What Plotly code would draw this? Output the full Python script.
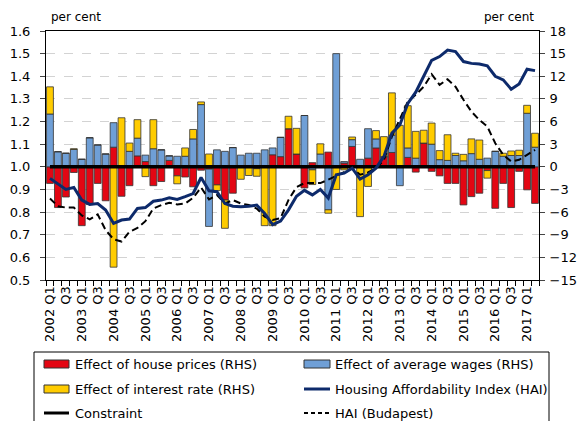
import plotly.graph_objects as go

# ---------------- data ----------------
years = list(range(2002, 2018))
n_quarters = 62  # 2002 Q1 .. 2017 Q2

house_prices = [-2.2, -5.4, -4.0, -0.75, -7.8, -5.0, -2.2, -4.5, 2.6, -3.9,
                -2.5, 1.45, 0.7, -2.5, -1.95, 0.85, -1.2, -1.35, -2.65, -0.45,
                -0.3, -2.4, -4.4, -3.5, 0.0, 0.0, -0.25, 0.0, 1.6, 1.35,
                5.05, 1.7, -2.8, 0.55, 0.0, 1.95, 0.0, 0.5, 2.7, 0.0,
                1.15, 2.5, 1.35, 1.9, 0.0, 1.25, -0.7, 3.15, -0.6, -1.2,
                -2.2, -2.2, -5.05, -3.95, -3.5, -0.5, -5.5, -2.2, -5.4, -0.6,
                -3.05, -4.85]
average_wages = [7.0, 2.0, 1.8, 2.3, 1.0, 3.85, 2.9, 1.7, 3.25, 0.0,
                 2.05, 2.35, 0.85, 2.4, 2.25, 0.6, 1.4, 1.4, 3.7, 8.25,
                 -7.6, 2.25, 2.05, 2.55, 1.55, 1.8, 1.8, 2.25, 0.9, 2.55,
                 0.0, 0.0, 6.8, -0.4, 1.7, -5.7, 15.0, 0.2, 0.9, 1.0,
                 3.9, 1.2, 0.0, 2.3, -2.5, 1.25, 1.15, 0.0, 3.0, 0.95,
                 0.85, 1.5, 0.8, 1.75, 1.0, 1.15, 2.05, 1.4, 1.5, 1.5,
                 7.1, 2.6]
interest_rate = [3.6, 0.0, 0.0, 0.1, 0.0, 0.0, 0.0, 0.0, -13.3, 6.5,
                 1.1, 2.45, -1.3, 3.85, 0.0, 0.0, -1.05, 1.1, 1.25, 0.35,
                 1.7, -0.75, -3.75, 0.0, -1.65, -1.15, -1.0, -7.8, -7.8, 0.0,
                 1.65, 3.4, 0.0, -1.95, 1.35, -0.45, -3.0, -0.4, 0.35, -6.6,
                 -2.6, 1.1, 2.65, 5.6, 5.5, 5.6, 3.55, 1.7, 2.8, 1.2,
                 3.4, 0.3, 0.85, 1.95, 2.55, -1.0, 0.0, 0.4, 0.6, 0.7,
                 1.05, 1.85]
hai = [0.949, 0.926, 0.900, 0.909, 0.853, 0.834, 0.838, 0.809, 0.750, 0.765,
       0.769, 0.816, 0.820, 0.848, 0.853, 0.863, 0.856, 0.868, 0.882, 0.953,
       0.894, 0.890, 0.838, 0.826, 0.824, 0.826, 0.831, 0.794, 0.745, 0.760,
       0.810, 0.870, 0.896, 0.876, 0.900, 0.862, 0.965, 0.972, 0.994, 0.946,
       0.965, 0.994, 1.046, 1.149, 1.185, 1.280, 1.330, 1.400, 1.470, 1.487,
       1.516, 1.509, 1.465, 1.457, 1.454, 1.446, 1.400, 1.384, 1.343, 1.366,
       1.431, 1.425]
hai_budapest = [0.860, 0.826, 0.820, 0.820, 0.785, 0.768, 0.790, 0.720, 0.680, 0.670,
                0.713, 0.730, 0.760, 0.816, 0.831, 0.841, 0.834, 0.838, 0.863, 0.909,
                0.856, 0.875, 0.838, 0.853, 0.838, 0.831, 0.816, 0.780, 0.765, 0.773,
                0.854, 0.910, 0.928, 0.928, 0.928, 0.943, 0.960, 0.980, 0.994, 0.965,
                0.975, 0.994, 1.030, 1.134, 1.215, 1.288, 1.318, 1.354, 1.409, 1.362,
                1.387, 1.354, 1.296, 1.244, 1.207, 1.178, 1.104, 1.053, 1.024, 1.031,
                1.053, 1.075]
constraint = [1.0] * n_quarters

legend_labels = ["Effect of house prices (RHS)", "Effect of average wages (RHS)",
                 "Effect of interest rate (RHS)", "Housing Affordability Index (HAI)",
                 "Constraint", "HAI (Budapest)"]

# ---------------- styling ----------------
RED = "#E30613"
BLUE = "#6F9FD6"
YELLOW = "#FFCC00"
NAVY = "#0D2A6B"
FONT = "DejaVu Sans"

x = list(range(n_quarters))
tickvals, ticktext = [], []
for i in x:
    yr = years[i // 4]
    q = i % 4 + 1
    if q == 1:
        tickvals.append(i); ticktext.append(f"{yr} Q1")
    elif q == 3:
        tickvals.append(i); ticktext.append("Q3")

fig = go.Figure()
bar_line = dict(color="#333333", width=0.8)
for vals, col, name in [(house_prices, RED, legend_labels[0]),
                        (average_wages, BLUE, legend_labels[1]),
                        (interest_rate, YELLOW, legend_labels[2])]:
    fig.add_trace(go.Bar(x=x, y=vals, name=name, marker=dict(color=col, line=bar_line),
                         yaxis="y", showlegend=False))

fig.add_trace(go.Scatter(x=x, y=constraint, mode="lines", name=legend_labels[4],
                         line=dict(color="black", width=3.5), yaxis="y2", showlegend=False))
fig.add_trace(go.Scatter(x=x, y=hai_budapest, mode="lines", name=legend_labels[5],
                         line=dict(color="black", width=2, dash="7px,4px"), yaxis="y2", showlegend=False))
fig.add_trace(go.Scatter(x=x, y=hai, mode="lines", name=legend_labels[3],
                         line=dict(color=NAVY, width=3), yaxis="y2", showlegend=False))

L, R, T, B = 46, 39, 31, 141
W, H = 578, 421
pw, ph = W - L - R, H - T - B

def px(xp):
    return (xp - L) / pw

def py(yp):
    return (H - B - yp) / ph

shapes = []
annotations = []
# legend box
shapes.append(dict(type="rect", xref="paper", yref="paper", x0=px(34), x1=px(549),
                   y0=py(440), y1=py(352), line=dict(color="black", width=1), fillcolor="white",
                   layer="above"))
rows = [364, 389, 413]
cols = [(44, 69, 73), (304, 330, 333)]
items = [("bar", RED), ("bar", BLUE), ("bar", YELLOW), ("line", NAVY), ("line", "black"), ("dash", "black")]
for k in range(6):
    r, c = divmod(k, 2)
    yy = rows[r]
    x0, x1, xt = cols[c]
    kind, col = items[k]
    if kind == "bar":
        shapes.append(dict(type="rect", xref="paper", yref="paper", x0=px(x0), x1=px(x1),
                           y0=py(yy + 4), y1=py(yy - 4), fillcolor=col,
                           line=dict(color="#333333", width=1), layer="above"))
    else:
        shapes.append(dict(type="line", xref="paper", yref="paper", x0=px(x0), x1=px(x1),
                           y0=py(yy), y1=py(yy),
                           line=dict(color=col, width=3 if kind == "line" else 2,
                                     dash="solid" if kind == "line" else "4px,3px"),
                           layer="above"))
    annotations.append(dict(text=legend_labels[k], xref="paper", yref="paper",
                            x=px(xt), y=py(yy), xanchor="left", yanchor="middle",
                            showarrow=False, font=dict(family=FONT, size=13, color="black")))

annotations.append(dict(text="per cent", xref="paper", yref="paper", x=px(49), y=py(17),
                        xanchor="left", yanchor="middle", showarrow=False,
                        font=dict(family=FONT, size=12, color="black")))
annotations.append(dict(text="per cent", xref="paper", yref="paper", x=px(536), y=py(17),
                        xanchor="right", yanchor="middle", showarrow=False,
                        font=dict(family=FONT, size=12, color="black")))

fig.update_layout(
    template="none",
    width=W, height=H,
    margin=dict(l=L, r=R, t=T, b=B, autoexpand=False),
    paper_bgcolor="white", plot_bgcolor="white",
    barmode="relative", bargap=0.14,
    font=dict(family=FONT, size=13, color="black"),
    showlegend=False,
    shapes=shapes, annotations=annotations,
    xaxis=dict(range=[-0.5, n_quarters - 0.5], tickvals=tickvals, ticktext=ticktext,
               tickangle=-90, ticks="", showline=True, linecolor="black", linewidth=1,
               mirror=True, showgrid=False, zeroline=False, automargin=False,
               minor=dict(tick0=-0.5, dtick=1, ticks="outside", ticklen=5,
                          tickcolor="black", showgrid=False),
               tickfont=dict(family=FONT, size=13)),
    yaxis=dict(side="right", range=[-15, 18], tick0=-15, dtick=3, ticks="outside", ticklen=5,
               showline=True, linecolor="black", linewidth=1, showgrid=True,
               gridcolor="#D3D3D3", griddash="dash", gridwidth=1, zeroline=False,
               automargin=False, ticklabelstandoff=2, tickfont=dict(family=FONT, size=13)),
    yaxis2=dict(side="left", overlaying="y", range=[0.5, 1.6], tick0=0.5, dtick=0.1,
                tickformat=".1f", ticks="outside", ticklen=5, showline=True, linecolor="black",
                linewidth=1, showgrid=False, zeroline=False, automargin=False,
                ticklabelstandoff=7, tickfont=dict(family=FONT, size=13)),
)

fig.write_html(
    "out.html",
    config={"displayModeBar": False},
    post_script="document.body.style.margin='0px';document.body.style.padding='0px';"
                "document.body.style.overflow='hidden';",
)
